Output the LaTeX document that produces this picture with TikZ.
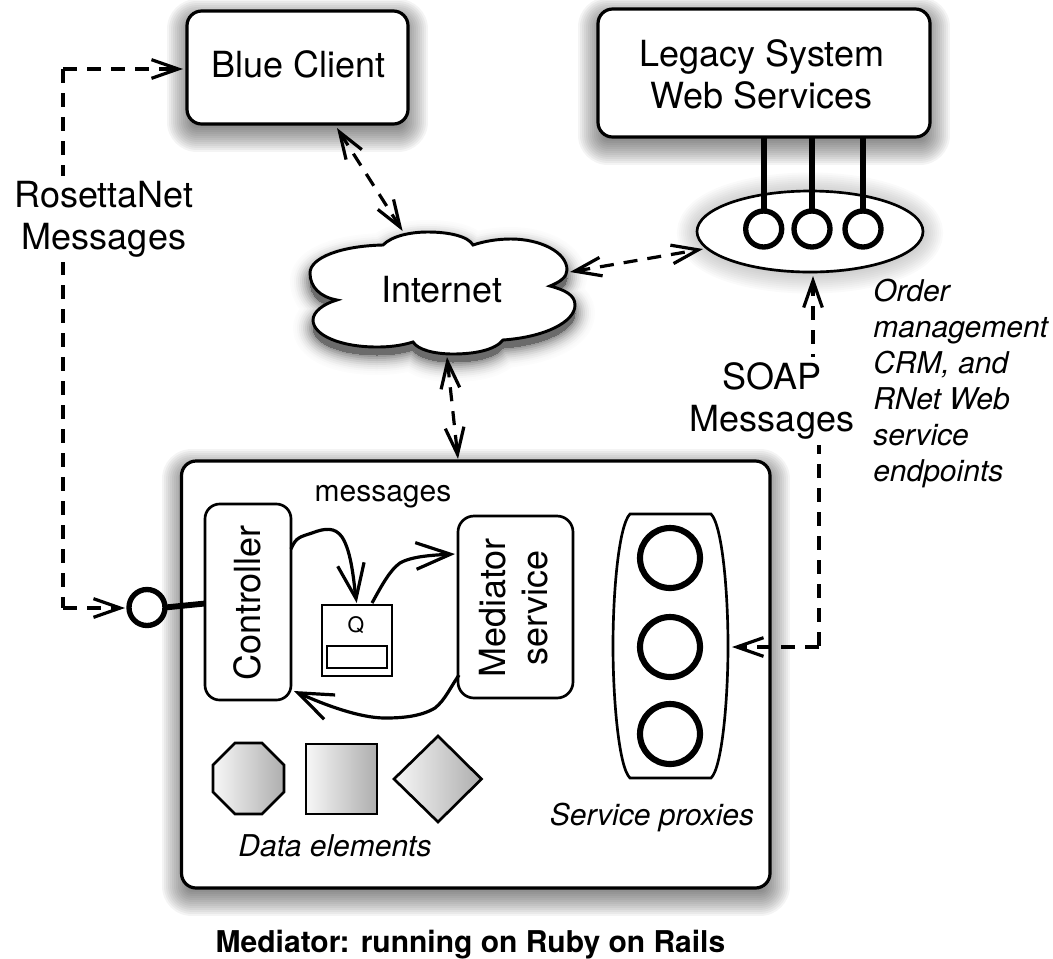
\documentclass[tikz,border=0pt]{standalone}
\usepackage{fontspec}
\setmainfont{TeX Gyre Heros}
\usetikzlibrary{arrows.meta,calc,shapes.geometric}
\tikzset{
  x=0.75pt,y=-0.75pt,
  boxsize/.style 2 args={minimum width=#1*0.75pt,minimum height=#2*0.75pt,inner sep=0pt,outer sep=0pt},
  bigbox/.style={draw=black,fill=white,line width=2.4pt,rounded corners=11pt},
  innerbox/.style={draw=black,fill=white,line width=2pt},
  big/.style={font=\fontsize{27}{31.5}\selectfont,align=center,inner sep=0pt},
  mid/.style={font=\fontsize{22.5}{32}\selectfont\itshape,align=center,inner sep=0pt},
  msgarrow/.style={line width=2.4pt,dash pattern=on 10.5pt off 7.5pt},
  tipa/.tip={Straight Barb[length=20pt,width=14pt,line width=2.4pt]},
  tipb/.tip={Straight Barb[length=26pt,width=20pt,line width=2.4pt]},
  flow/.style={line width=2.4pt,-{tipb}},
  ring/.style={draw=black,fill=white,line width=4pt,circle,inner sep=0pt,outer sep=0pt},
  stem/.style={line width=4.4pt},
  gradbox/.style={draw=black,left color=gradL,right color=gradR,line width=2pt},
  softbox/.style={draw=black,fill=black,opacity=0.045,line join=round},
  softoval/.style={draw=black,fill=black,opacity=0.02},
}
\definecolor{gradL}{gray}{0.97}
\definecolor{gradR}{gray}{0.68}
\begin{document}
\begin{tikzpicture}
\useasboundingbox (0,0) rectangle (1053,958);
\def\cloudpath{(383,245)
 .. controls (392,236) and (410,232) .. (428,232)
 .. controls (448,232) and (468,236) .. (473,245)
 .. controls (485,241) and (498,239) .. (511,239)
 .. controls (540,239) and (567,252) .. (567,270)
 .. controls (567,277) and (560,282) .. (550,286)
 .. controls (565,290) and (575,295) .. (575,305)
 .. controls (575,322) and (545,337) .. (503,340)
 .. controls (495,350) and (475,354) .. (453,354)
 .. controls (435,354) and (418,350) .. (413,342)
 .. controls (400,346) and (388,347) .. (377,347)
 .. controls (340,347) and (313,335) .. (313,320)
 .. controls (313,312) and (323,304) .. (337,300)
 .. controls (320,297) and (310,287) .. (310,273)
 .. controls (310,258) and (340,246) .. (383,245) -- cycle}
% shadows
\foreach \w in {40,36,32,28,24,20,16,12,8,4}{
  \draw[softoval,line width=\w*0.75pt] (810,233) ellipse (113 and 40.5);
}
\foreach \w in {60,56,52,48,44,40,36,32,28,24,20,16,12,8,4}{
  \draw[softbox,line width=\w*0.75pt] (197,29) -- (398,29) -- (398,122) -- (197,122) -- cycle;
  \draw[softbox,line width=\w*0.75pt] (608,27) -- (920,27) -- (920,135) -- (608,135) -- cycle;
  \draw[softbox,line width=\w*0.75pt] (191.5,479) -- (760,479) -- (760,886) -- (191.5,886) -- cycle;
}
\begin{scope}[yshift=-6pt]
\foreach \w/\kk in {40/1,36/2,32/4,28/7,24/10,20/15,16/20,12/26,8/33,4/40,0/58}{
  \draw[draw=black!\kk!white,fill=black!\kk!white,line width=\w*0.75pt,line join=round] \cloudpath;
}
\end{scope}
% cloud
\draw[black,fill=white,line width=2.2pt] \cloudpath;
% nodes
\node[bigbox,boxsize={221}{113}] (blue) at (297.5,67.5) {};
\node[big] (bluetext) at (298.5,64) {Blue Client};
\node[bigbox,boxsize={332}{128}] (legacy) at (764,73) {};
\node[big] (legacytext) at (762,74) {Legacy System\\Web Services};
\node[big] (internet) at (442,290) {Internet};
\node[draw=black,fill=white,line width=2pt,ellipse,boxsize={226}{81}] (epell) at (810,231.5) {};
\node[bigbox,boxsize={588.5}{427}] (main) at (475.75,674.5) {};
% endpoints
\foreach \n/\x in {a/763.7,b/812,c/863}{
  \node[ring,minimum size=27pt] (ep\n) at (\x,229) {};
  \draw[stem] (legacy.south -| ep\n) -- (ep\n.north);
}
% inner boxes
\node[innerbox,rounded corners=11pt,boxsize={86}{196}] (ctrl) at (248,602) {};
\node[big,rotate=90] (ctrltext) at (247,603) {Controller};
\node[innerbox,rounded corners=12pt,boxsize={115}{182}] (med) at (515.5,607) {};
\node[big,rotate=90] (medtext) at (513.5,608) {Mediator\\service};
\node[innerbox,boxsize={70}{71}] (q) at (357,640.5) {};
\node[font=\fontsize{16}{18}\selectfont,inner sep=0pt] (qtext) at (356,625) {Q};
\node[innerbox,boxsize={60}{22}] (qin) at (357,657) {};
\node[font=\fontsize{22.5}{26}\selectfont,inner sep=0pt] (msgs) at (383,497) {messages};
% data elements
\draw[gradbox] (235,743) -- (262,743) -- (284,765) -- (284,792) -- (262,814) -- (235,814) -- (213,792) -- (213,765) -- cycle;
\draw[gradbox] (306,744) rectangle (377,814);
\draw[gradbox] (438,736) -- (481.5,779) -- (438,822) -- (394,779) -- cycle;
\node[mid] (datatxt) at (335,846) {Data elements};
% proxies
\draw[black,fill=white,line width=2pt] (630,514) -- (711,514) .. controls (722,525) and (728,590) .. (728,646) .. controls (728,700) and (722,768) .. (711,778) -- (630,778) .. controls (619,768) and (613,700) .. (613,646) .. controls (613,590) and (619,525) .. (630,514) -- cycle;
\node[ring,line width=4.6pt,minimum size=45pt] (p1) at (670,558) {};
\node[ring,line width=4.6pt,minimum size=45pt] (p2) at (670,647) {};
\node[ring,line width=4.6pt,minimum size=45pt] (p3) at (670,734) {};
\node[mid] (proxtxt) at (652,817) {Service proxies};
% lollipop
\node[ring,minimum size=27pt] (port) at (147,607.5) {};
\coordinate (ctrlport) at (205,603.5);
\draw[stem] (port.east) -- (ctrlport);
% connectors
\coordinate (rt) at (63,69);
\coordinate (rb) at (63,608);
\coordinate (blueTip) at (183,69);
\coordinate (portTip) at (125,608);
\draw[msgarrow] (rt) -- (rb);
\draw[msgarrow,-{tipa}] (rt) -- (blueTip);
\draw[msgarrow,-{tipa}] (rb) -- (portTip);
\coordinate (a1) at (337,128);
\coordinate (a2) at (402.6,231);
\draw[msgarrow,{tipa}-{tipa}] (a1) -- (a2);
\coordinate (b1) at (570,272);
\coordinate (b2) at (703,249);
\draw[msgarrow,{tipa}-{tipa}] (b1) -- (b2);
\coordinate (c1) at (447,357);
\coordinate (c2) at (458,459);
\draw[msgarrow,{tipa}-{tipa}] (c1) -- (c2);
\coordinate (s1) at (813,276);
\coordinate (s2) at (813,365);
\coordinate (s3) at (819,440);
\coordinate (s4) at (819,647);
\coordinate (s5) at (732,647);
\draw[msgarrow,{tipa}-] (s1) -- (s2);
\draw[msgarrow] (s3) -- (s4);
\draw[msgarrow,-{tipa}] (s4) -- (s5);
% labels
\node[big,fill=white,inner sep=4pt] (rosetta) at (104,219) {RosettaNet\\Messages};
\node[big,fill=white,inner sep=4pt] (soap) at (772,401) {SOAP\\Messages};
\node[font=\fontsize{22.5}{26.9}\selectfont\itshape,align=left,inner sep=0pt,anchor=north west] (order) at (873,279) {Order\\management\\CRM, and\\RNet Web\\service\\endpoints};
\node[font=\fontsize{22.5}{24}\selectfont\bfseries,inner sep=0pt] (title) at (470.5,944.5) {Mediator: running on Ruby on Rails};
% inner flows
\draw[flow] (291,549) .. controls (296,537) and (300,537) .. (312,533) .. controls (325,528) and (335,527) .. (342,537) .. controls (352,552) and (354,585) .. (356.7,603);
\draw[flow] (372,603) .. controls (382,585) and (390,570) .. (400,563) .. controls (412,556) and (435,555) .. (455,554);
\draw[flow] (459,675) .. controls (450,688) and (445,700) .. (435,708) .. controls (420,717) and (400,718) .. (385,718) .. controls (360,718) and (325,705) .. (294,691);
\end{tikzpicture}
\end{document}
